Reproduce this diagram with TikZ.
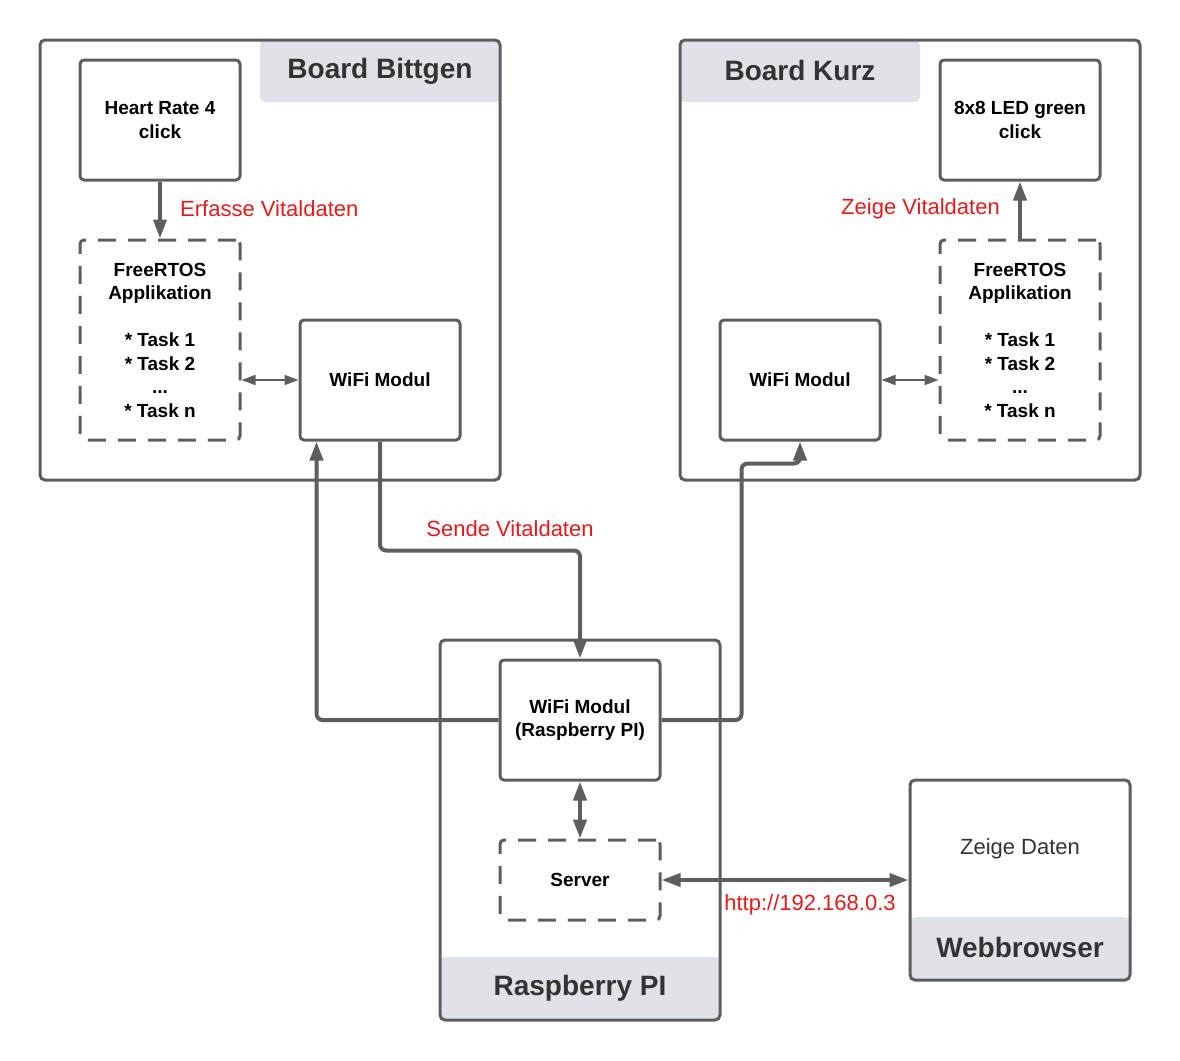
\documentclass[tikz,border=0pt]{standalone}
\usepackage{fontspec}
\setmainfont{Liberation Sans}
\usetikzlibrary{positioning}
\usetikzlibrary{arrows.meta}
\definecolor{line-gray}{HTML}{5E5E5E}
\definecolor{head-gray}{HTML}{DFE3E8}
\definecolor{title-gray}{HTML}{333333}
\definecolor{label-red}{HTML}{E31B1B}

\begin{document}
\begin{tikzpicture}[x=1pt, y=-1pt, font=\fontsize{19}{23.5}\selectfont\bfseries,
  box/.style={draw=line-gray, line width=3pt, rounded corners=4pt, align=center, inner sep=0pt, minimum width=160pt, minimum height=120pt},
  dashbox/.style={box, dash pattern=on 18pt off 12pt},
  frame/.style={draw=line-gray, line width=3pt, rounded corners=5pt, inner sep=0pt},
  head/.style={fill=head-gray, rounded corners=5pt, inner sep=0pt, minimum height=62pt, text=title-gray, font=\fontsize{28}{32}\selectfont\bfseries},
  note/.style={text=label-red, inner sep=0pt, font=\fontsize{22}{26}\selectfont},
  wire/.style={draw=line-gray, line width=4pt, rounded corners=6pt, -{Triangle[length=19pt,width=13pt]}},
  both/.style={wire, {Triangle[length=19pt,width=13pt]}-{Triangle[length=19pt,width=13pt]}},
  link/.style={draw=line-gray, line width=2pt, {Triangle[length=14pt,width=10pt]}-{Triangle[length=14pt,width=10pt]}}]
\useasboundingbox (0, 0) rectangle (1180, 1060);

% headers
\node[head, minimum width=240pt] (bittgenhead) at (380, 71) {\raisebox{2pt}{Board Bittgen}};
\node[head, minimum width=240pt] (kurzhead) at (800, 71) {\raisebox{2pt}{Board Kurz}};
\node[head, minimum width=280pt, minimum height=63pt] (rpihead) at (580, 988.5) {\raisebox{2pt}{Raspberry PI}};
\node[head, minimum width=220pt, minimum height=63pt] (browserhead) at (1020, 948.5) {\raisebox{2pt}{Webbrowser}};

% frames
\node[frame, minimum width=460pt, minimum height=440pt] (bittgen) at (270, 260) {};
\node[frame, minimum width=460pt, minimum height=440pt] (kurz) at (910, 260) {};
\node[frame, minimum width=280pt, minimum height=380pt] (rpi) at (580, 830) {};
\node[frame, minimum width=220pt, minimum height=200pt] (browser) at (1020, 880) {};

% Board Bittgen
\node[box] (heart) at (160, 120) {Heart Rate 4\\click};
\node[dashbox, minimum height=200pt] (freeb) at (160, 340) {FreeRTOS\\Applikation\\[23.5pt]* Task 1\\* Task 2\\...\\* Task n};
\node[box] (wifib) at (380, 380) {WiFi Modul};
\draw[wire] (heart) -- (freeb);
\node[note, anchor=west] (erfasse) at (180, 209) {Erfasse Vitaldaten};
\draw[link] (wifib.west -| freeb.east) -- (wifib.west);

% Board Kurz
\node[box] (led) at (1020, 120) {8x8 LED green\\click};
\node[dashbox, minimum height=200pt] (freek) at (1020, 340) {FreeRTOS\\Applikation\\[23.5pt]* Task 1\\* Task 2\\...\\* Task n};
\node[box] (wifik) at (800, 380) {WiFi Modul};
\draw[wire] (freek) -- (led);
\node[note, anchor=east] (zeige) at (1000, 209) {Zeige Vitaldaten};
\draw[link] (wifik.east) -- (wifik.east -| freek.west);

% Raspberry PI
\node[box] (rpiwifi) at (580, 720) {WiFi Modul\\(Raspberry PI)};
\node[dashbox, minimum height=80pt] (server) at (580, 880) {Server};
\draw[both] (rpiwifi) -- (server);

% Webbrowser
\node[font=\fontsize{22}{26}\selectfont, text=title-gray] (daten) at (1020, 849) {Zeige Daten};
\draw[both] (server) -- (browser);
\node[note] (http) at (810, 905) {http://192.168.0.3};

% wireless links
\draw[wire] (wifib.south) -- ++(0, 109) -| (rpiwifi.north);
\node[note] (sende) at (510, 529) {Sende Vitaldaten};
\draw[wire] (rpiwifi.west) -| ([xshift=18pt]wifib.south west);
\draw[wire] (rpiwifi.east) -- ++(80, 0) |- ([yshift=-22pt]wifik.south) -- (wifik.south);
\end{tikzpicture}
\end{document}
